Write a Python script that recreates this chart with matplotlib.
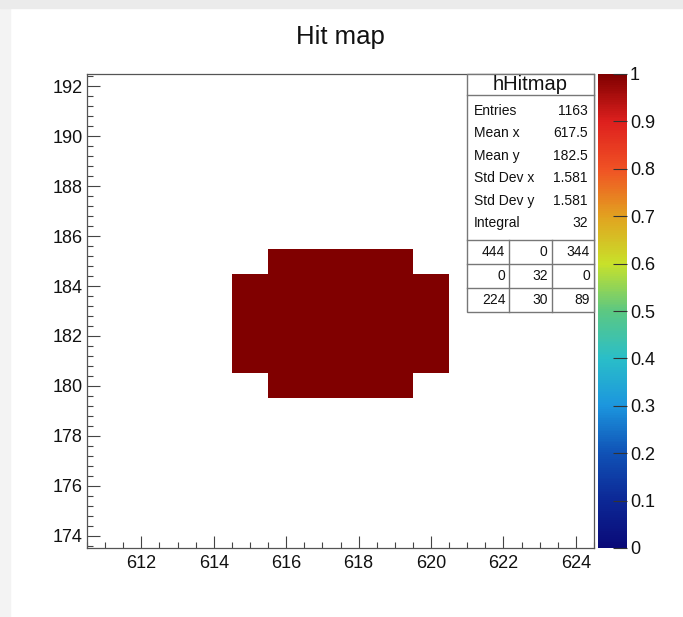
import numpy as np
import matplotlib
matplotlib.use("Agg")
import matplotlib.pyplot as plt
from matplotlib.ticker import MultipleLocator, FixedLocator, FormatStrFormatter
from matplotlib.patches import Rectangle
from matplotlib.colors import LinearSegmentedColormap

plt.rcParams['font.family'] = ['Liberation Sans', 'DejaVu Sans']

title = "Hit map"
hist_name = "hHitmap"

# unit-wide bins centred on integer pixel indices
x_range = (610.5, 624.5)
y_range = (173.5, 192.5)

# occupied pixels (columns x rows), content per bin
hit_cols = [615, 616, 617, 618, 619, 620]
hit_rows = [180, 181, 182, 183, 184, 185]
hit_counts = [
    [0, 1, 1, 1, 1, 0],  # row 180
    [1, 1, 1, 1, 1, 1],  # row 181
    [1, 1, 1, 1, 1, 1],  # row 182
    [1, 1, 1, 1, 1, 1],  # row 183
    [1, 1, 1, 1, 1, 1],  # row 184
    [0, 1, 1, 1, 1, 0],  # row 185
]

entries = 1163
# under/overflow summary, top row first
overflow_table = [
    [444, 0, 344],
    [0, 32, 0],
    [224, 30, 89],
]

x_ticks = [612, 614, 616, 618, 620, 622, 624]
y_ticks = [174, 176, 178, 180, 182, 184, 186, 188, 190, 192]
z_ticks = [0, 0.1, 0.2, 0.3, 0.4, 0.5, 0.6, 0.7, 0.8, 0.9, 1]

# rainbow palette stops (position, RGB 0-255)
palette_stops = [
    (0.00, (10, 10, 120)),
    (0.10, (12, 40, 150)),
    (0.20, (16, 82, 182)),
    (0.30, (28, 150, 222)),
    (0.40, (42, 190, 200)),
    (0.50, (92, 200, 130)),
    (0.60, (200, 225, 42)),
    (0.70, (226, 162, 32)),
    (0.80, (240, 82, 36)),
    (0.90, (222, 32, 30)),
    (1.00, (128, 0, 0)),
]
rainbow = LinearSegmentedColormap.from_list(
    "rainbow_hits", [(p, tuple(v / 255 for v in c)) for p, c in palette_stops],
    N=256)

W, H = 683, 617
fig = plt.figure(figsize=(W / 100, H / 100), dpi=100, facecolor='white')


def box(x0, y0, x1, y1):
    """figure-fraction rect from pixel corners (y measured from top)"""
    return [x0 / W, 1 - y1 / H, (x1 - x0) / W, (y1 - y0) / H]


# canvas border
fig.patches.append(Rectangle((0, 0), 10 / W, 1, transform=fig.transFigure,
                             color='#f3f3f3', zorder=-5))
fig.patches.append(Rectangle((0, 1 - 8 / H), 1, 8 / H, transform=fig.transFigure,
                             color='#ebebeb', zorder=-5))

# ---- histogram grid ----
x_edges = np.arange(x_range[0], x_range[1] + 0.5, 1.0)
y_edges = np.arange(y_range[0], y_range[1] + 0.5, 1.0)
grid = np.zeros((len(y_edges) - 1, len(x_edges) - 1))
x0 = int(x_range[0] + 0.5)
y0 = int(y_range[0] + 0.5)
for r, yv in enumerate(hit_rows):
    for c, xv in enumerate(hit_cols):
        grid[yv - y0, xv - x0] = hit_counts[r][c]
masked = np.ma.masked_equal(grid, 0)

ax = fig.add_axes(box(87, 74, 594, 548))
mesh = ax.pcolormesh(x_edges, y_edges, masked, cmap=rainbow, vmin=0, vmax=1)
ax.set_xlim(*x_range)
ax.set_ylim(*y_range)

ax.xaxis.set_major_locator(FixedLocator(x_ticks))
ax.xaxis.set_minor_locator(MultipleLocator(0.5))
ax.yaxis.set_major_locator(FixedLocator(y_ticks))
ax.yaxis.set_minor_locator(MultipleLocator(0.4))
ax.tick_params(which='both', direction='in', color='#444444', width=0.8,
               top=False, right=False)
ax.tick_params(which='major', length=9, labelsize=13, labelcolor='#111111')
ax.tick_params(which='minor', length=4.5)
ax.tick_params(axis='x', which='major', pad=5)
ax.tick_params(axis='y', which='major', pad=3)
for sp in ax.spines.values():
    sp.set_color('#555555')
    sp.set_linewidth(0.9)

# ---- palette ----
cax = fig.add_axes(box(598, 74, 627, 548))
cb = fig.colorbar(mesh, cax=cax)
cb.outline.set_visible(False)
cb.set_ticks(z_ticks)
cb.ax.yaxis.set_major_formatter(FormatStrFormatter('%g'))
cb.ax.tick_params(direction='in', length=10, width=0.8, color='#333333',
                  labelsize=13, pad=2, labelcolor='#111111')
cb.ax.minorticks_off()

# ---- statistics box ----
w_arr = np.array(hit_counts, dtype=float)
xs, ys = np.meshgrid(hit_cols, hit_rows)
integral = w_arr.sum()
mean_x = (w_arr * xs).sum() / integral
mean_y = (w_arr * ys).sum() / integral
std_x = np.sqrt((w_arr * (xs - mean_x) ** 2).sum() / integral)
std_y = np.sqrt((w_arr * (ys - mean_y) ** 2).sum() / integral)

stat_labels = ["Entries", "Mean x", "Mean y", "Std Dev x", "Std Dev y", "Integral"]
stat_values = [f"{entries}", f"{mean_x:.4g}", f"{mean_y:.4g}",
               f"{std_x:.4g}", f"{std_y:.4g}", f"{integral:.4g}"]

bw, bh = 127, 238
sax = fig.add_axes(box(467, 74, 467 + bw, 74 + bh))
sax.set_xlim(0, bw)
sax.set_ylim(bh, 0)
sax.axis('off')
edge = '#777777'
sax.add_patch(Rectangle((0, 0), bw, bh, facecolor='white', edgecolor=edge,
                        lw=1.0, clip_on=False))
sax.plot([0, bw], [21, 21], color=edge, lw=1.0, clip_on=False)
grid_top = 166
row_h = 24
for k in range(3):
    yy = grid_top + k * row_h
    sax.plot([0, bw], [yy, yy], color=edge, lw=1.0, clip_on=False)
col_edges = [0, bw / 3, 2 * bw / 3, bw]
for xx in col_edges[1:3]:
    sax.plot([xx, xx], [grid_top, bh], color=edge, lw=1.0, clip_on=False)

sax.text(bw / 2, 11, hist_name, ha='center', va='center', fontsize=14.5,
         color='#111111')
for i, (lab, val) in enumerate(zip(stat_labels, stat_values)):
    yy = 36.7 + 22.5 * i
    sax.text(7, yy, lab, ha='left', va='center', fontsize=10, color='#111111')
    sax.text(bw - 6, yy, val, ha='right', va='center', fontsize=10,
             color='#111111')
for r, row in enumerate(overflow_table):
    yy = grid_top + row_h * (r + 0.5)
    for c, v in enumerate(row):
        sax.text(col_edges[c + 1] - 4, yy, f"{v}", ha='right', va='center',
                 fontsize=10, color='#111111')

fig.text(340.5 / W, 1 - 44 / H, title, ha='center', va='baseline',
         fontsize=18.5, color='#111111')

fig.savefig("out.png", dpi=100, facecolor=fig.get_facecolor())
